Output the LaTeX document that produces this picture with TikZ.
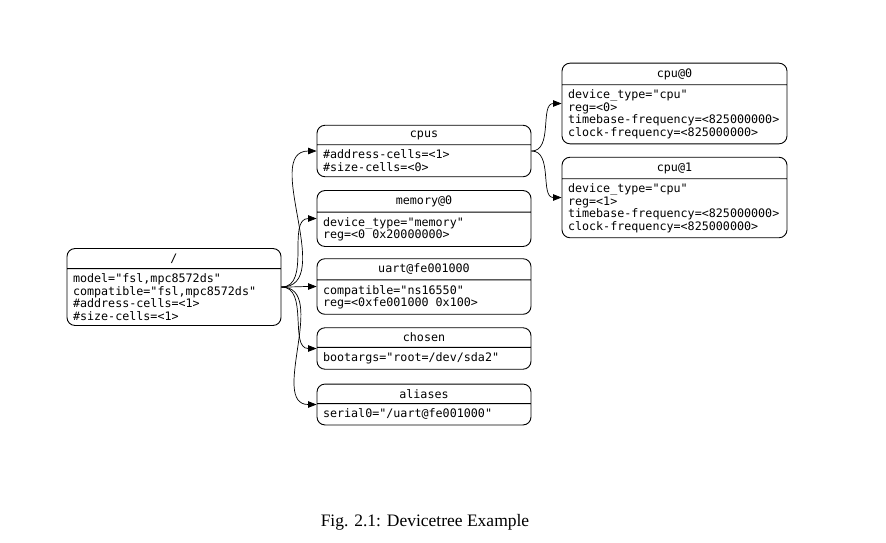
\documentclass[tikz,border=0pt]{standalone}
\usepackage{fontspec}
\setmainfont{Liberation Serif}
\setmonofont{DejaVu Sans Mono}
\usetikzlibrary{arrows.meta,shapes.multipart}

\begin{document}
\begin{tikzpicture}[x=1pt, y=-1pt, >={Triangle[length=8.5pt,width=6.5pt]},
  rec/.style={rectangle split, rectangle split parts=2, draw, line width=0.9pt,
    rounded corners=8pt, align=left, rectangle split part align={center,left},
    font=\ttfamily\fontsize{11.7}{12.4}\selectfont, inner xsep=6pt, inner ysep=4.8pt,
    minimum width=214pt},
  wide/.style={rec, minimum width=225pt},
  edge/.style={->, line width=0.7pt, draw=black}
]
\useasboundingbox (0,0) rectangle (886,542);
\node[rec] (root) at (174,287) {/\nodepart{two}model="fsl,mpc8572ds"\\compatible="fsl,mpc8572ds"\\\#address-cells=<1>\\\#size-cells=<1>};
\node[rec] (cpus) at (424,151) {cpus\nodepart{two}\#address-cells=<1>\\\#size-cells=<0>};
\node[rec] (memory) at (424,218.5) {memory@0\nodepart{two}device\_type="memory"\\reg=<0 0x20000000>};
\node[rec] (uart) at (424,286.5) {uart@fe001000\nodepart{two}compatible="ns16550"\\reg=<0xfe001000 0x100>};
\node[rec] (chosen) at (424,348.5) {chosen\nodepart{two}bootargs="root=/dev/sda2"};
\node[rec] (aliases) at (424,404.5) {aliases\nodepart{two}serial0="/uart@fe001000"};
\node[wide] (cpu0) at (674.5,103.5) {cpu@0\nodepart{two}device\_type="cpu"\\reg=<0>\\timebase-frequency=<825000000>\\clock-frequency=<825000000>};
\node[wide] (cpu1) at (674.5,197.5) {cpu@1\nodepart{two}device\_type="cpu"\\reg=<1>\\timebase-frequency=<825000000>\\clock-frequency=<825000000>};
\node[font=\fontsize{17.5}{20}\selectfont] (caption) at (425,522) {Fig. 2.1: Devicetree Example};
\draw[edge] (root.east) to[out=0,in=180] (cpus.west);
\draw[edge] (root.east) to[out=0,in=180] (memory.west);
\draw[edge] (root.east) to[out=0,in=180] (uart.west);
\draw[edge] (root.east) to[out=0,in=180] (chosen.west);
\draw[edge] (root.east) to[out=0,in=180] (aliases.west);
\draw[edge] (cpus.east) to[out=0,in=180] (cpu0.west);
\draw[edge] (cpus.east) to[out=0,in=180] (cpu1.west);
\end{tikzpicture}
\end{document}
